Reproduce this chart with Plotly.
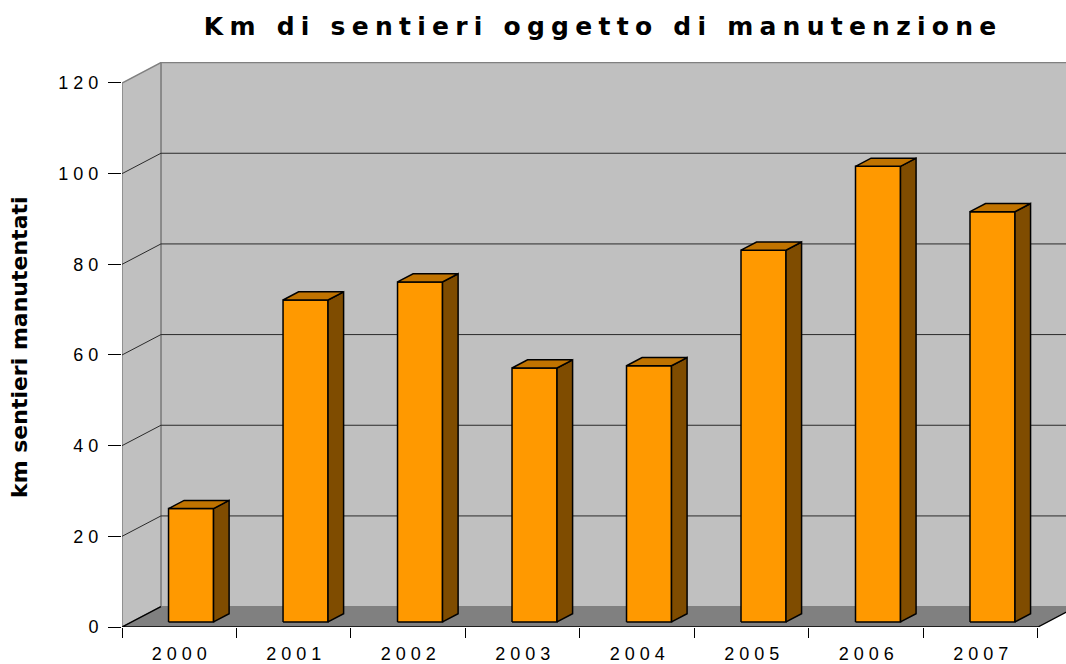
import plotly.graph_objects as go

# ---------------- data ----------------
years = ["2000", "2001", "2002", "2003", "2004", "2005", "2006", "2007"]
km = [25, 71, 75, 56, 56.5, 82, 100.5, 90.5]
y_ticks = [0, 20, 40, 60, 80, 100, 120]
title_text = "Km di sentieri oggetto di manutenzione"
y_title = "km sentieri manutentati"

# ---------------- pseudo-3D geometry (axis units) ----------------
X_MIN, X_MAX = -0.5, 7.745
Y_MAX = 124.63
DX, DY = 0.34, 4.5          # full floor depth shift
BAR_W = 0.393
BAR_SHIFT = 0.018
F0, F1 = 0.25, 0.65          # depth span of bars
NB = "\u00a0"


def spaced(s, gap=NB):
    out = []
    for ch in s:
        out.append(NB if ch == " " else ch)
    return gap.join(out)


n = len(years)
x_left, x_right = -0.5, n - 0.5
wall_max = y_ticks[-1]

fig = go.Figure()


def poly(xs, ys, fill, line_color=None, width=1):
    fig.add_trace(go.Scatter(
        x=xs, y=ys, mode="lines", fill="toself", fillcolor=fill,
        line=dict(color=line_color or fill, width=width if line_color else 0),
        hoverinfo="skip", showlegend=False))


def lines(xs, ys, color, width=1):
    fig.add_trace(go.Scatter(x=xs, y=ys, mode="lines",
                             line=dict(color=color, width=width),
                             hoverinfo="skip", showlegend=False))


# back wall
poly([x_left + DX, X_MAX + 0.2, X_MAX + 0.2, x_left + DX, x_left + DX],
     [DY, DY, wall_max + DY, wall_max + DY, DY], "#C0C0C0", "#808080", 1.2)
# side wall
poly([x_left, x_left, x_left + DX, x_left + DX, x_left],
     [0, wall_max, wall_max + DY, DY, 0], "#C0C0C0", "#808080", 1.5)
# floor
poly([x_left, x_left + DX, x_right + DX, x_right, x_left],
     [0, DY, DY, 0, 0], "#808080")

# gridlines
gx, gy = [], []
for v in y_ticks[1:-1]:
    gx += [x_left, x_left + DX, X_MAX + 0.2, None]
    gy += [v, v + DY, v + DY, None]
lines(gx, gy, "#2a2a2a", 1)

# floor edges
lines([x_left + DX, x_left, x_right, x_right + DX],
      [DY, 0, 0, DY], "black", 1.4)

# bars
fx, fy, sx, sy, tx, ty = [], [], [], [], [], []
d = F1 - F0
for i, v in enumerate(km):
    xl = i - BAR_W / 2 + F0 * DX + BAR_SHIFT
    xr = i + BAR_W / 2 + F0 * DX + BAR_SHIFT
    yb = F0 * DY
    yt = v + F0 * DY
    fx += [xl, xr, xr, xl, xl, None]
    fy += [yb, yb, yt, yt, yb, None]
    sx += [xr, xr + d * DX, xr + d * DX, xr, xr, None]
    sy += [yb, yb + d * DY, yt + d * DY, yt, yb, None]
    tx += [xl, xr, xr + d * DX, xl + d * DX, xl, None]
    ty += [yt, yt, yt + d * DY, yt + d * DY, yt, None]

poly(fx, fy, "#FF9900", "black", 1.5)
poly(sx, sy, "#7F4C00", "black", 1.5)
poly(tx, ty, "#C07300", "black", 1.5)

tick_font = dict(family="Liberation Sans, Arial, sans-serif", size=18, color="black")

fig.update_layout(
    width=1066, height=664,
    margin=dict(l=122, r=0, t=62, b=37, autoexpand=False),
    paper_bgcolor="white", plot_bgcolor="white",
    title=dict(text=spaced(title_text, "\u2005"), x=600 / 1066, xanchor="center",
               xref="container", y=1 - 26 / 664, yanchor="middle", yref="container",
               font=dict(family="DejaVu Sans, Verdana, sans-serif", size=25,
                         color="black", weight="bold")),
    xaxis=dict(range=[X_MIN, X_MAX], tickmode="array",
               tickvals=list(range(n)), ticktext=[spaced(y) for y in years],
               ticks="", showgrid=False, zeroline=False, showline=False,
               ticklabelstandoff=14, tickfont=tick_font,
               minor=dict(ticks="outside", tick0=-0.5, dtick=1, ticklen=10,
                          tickcolor="black", tickwidth=1.2, showgrid=False),
               fixedrange=True, automargin=False),
    yaxis=dict(range=[0, Y_MAX], tickmode="array", tickvals=y_ticks,
               ticktext=[spaced(str(t)) for t in y_ticks],
               ticks="outside", ticklen=13, tickcolor="black", tickwidth=1.2,
               ticklabelstandoff=6, tickfont=tick_font,
               showgrid=False, zeroline=False, showline=False,
               fixedrange=True, automargin=False),
    annotations=[dict(text=y_title, xref="paper", yref="paper",
                      x=(19 - 122) / 944, y=(627 - 347) / 565,
                      xanchor="center", yanchor="middle", textangle=-90,
                      showarrow=False,
                      font=dict(family="DejaVu Sans, Verdana, sans-serif",
                                size=22, color="black", weight="bold"))],
)

fig.write_html("out.html", config={"displayModeBar": False},
               post_script="document.body.style.margin='0';"
                           "document.body.style.overflow='hidden';")
